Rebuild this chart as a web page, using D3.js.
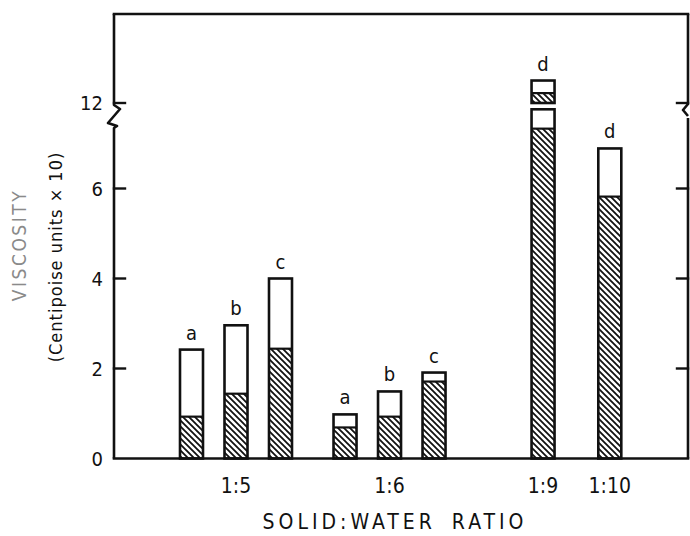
<!DOCTYPE html>
<html lang="en">
<head>
    <meta charset="UTF-8">
    <title>Viscosity vs solid:water ratio</title>
    <style>
        body{ margin:0; background:#fff; }
        svg{ display:block; }
        text{ font-family:"DejaVu Sans Condensed","DejaVu Sans",sans-serif; fill:#111; }
    </style>
</head>
<body>
    <script src="https://cdnjs.cloudflare.com/ajax/libs/d3/7.8.2/d3.min.js"></script>
    <script>

        // data
        const groups = ["1:5", "1:6", "1:9", "1:10"];
        const barGroup = ["1:5", "1:5", "1:5", "1:6", "1:6", "1:6", "1:9", "1:10"];
        const barLetters = ["a", "b", "c", "a", "b", "c", "d", "d"];
        const totalValues = [2.42, 2.96, 4.0, 0.98, 1.49, 1.91, 7.76, 6.89];
        const hatchedValues = [0.93, 1.44, 2.44, 0.69, 0.93, 1.71, 7.33, 5.82];
        // piece of the 1:9 bar drawn above the axis break
        const brokenBase = 12.0;
        const brokenHatched = 12.22;
        const brokenTotal = 12.5;
        const yTicks = [2, 4, 6, 12];
        const yTickLabels = ["0", "2", "4", "6", "12"];

        const w = 690;
        const h = 536;
        const mLeft = 114, mRight = 688, mTop = 14, mBottom = 458.5;
        const stroke = "#111";

        const svg = d3.select("body")
            .append("svg")
            .attr("width", w)
            .attr("height", h);

        // broken y axis: 0..7.8 below the break, 12..14 above it
        const y = d3.scaleLinear()
            .domain([0, 7.8, 12, 13.98])
            .range([mBottom, 107.5, 103, mTop]);

        // bar slots, groups spaced apart
        const slots = [0, 1, 2, 3.45, 4.45, 5.45, 7.9, 9.4];
        const x = d3.scaleLinear()
            .domain([0, 1])
            .range([191.5, 236]);
        const bw = 23;

        const defs = svg.append("defs");
        defs.append("pattern")
            .attr("id", "hatch")
            .attr("patternUnits", "userSpaceOnUse")
            .attr("width", 6)
            .attr("height", 6)
            .append("path")
                .attr("d", "M-1,-1 L7,7 M-1,5 L1,7 M5,-1 L7,1")
                .attr("stroke", stroke)
                .attr("stroke-width", 1.8);

        const bars = d3.range(barGroup.length).map(i => ({
            cx: x(slots[i]),
            base: 0,
            hatched: hatchedValues[i],
            total: totalValues[i],
            letter: barLetters[i]
        }));
        // the part above the break
        const pieces = bars.map(b => Object.assign({}, b)).concat([{
            cx: x(slots[6]),
            base: brokenBase,
            hatched: brokenHatched,
            total: brokenTotal,
            letter: "d"
        }]);
        // only the top piece of 1:9 gets a letter
        pieces[6].letter = "";

        const g = svg.selectAll("g.bar")
            .data(pieces)
            .enter()
            .append("g")
                .attr("class", "bar");

        g.append("rect")
            .attr("x", d => d.cx - bw / 2)
            .attr("y", d => y(d.total))
            .attr("width", bw)
            .attr("height", d => y(d.base) - y(d.total))
            .attr("fill", "#fff");

        g.append("rect")
            .attr("x", d => d.cx - bw / 2)
            .attr("y", d => y(d.hatched))
            .attr("width", bw)
            .attr("height", d => y(d.base) - y(d.hatched))
            .attr("fill", "url(#hatch)");

        g.append("line")
            .attr("x1", d => d.cx - bw / 2)
            .attr("x2", d => d.cx + bw / 2)
            .attr("y1", d => y(d.hatched))
            .attr("y2", d => y(d.hatched))
            .attr("stroke", stroke)
            .attr("stroke-width", 2.2);

        g.append("rect")
            .attr("x", d => d.cx - bw / 2)
            .attr("y", d => y(d.total))
            .attr("width", bw)
            .attr("height", d => y(d.base) - y(d.total))
            .attr("fill", "none")
            .attr("stroke", stroke)
            .attr("stroke-width", 2.6);

        g.append("text")
            .attr("x", d => d.cx)
            .attr("y", d => y(d.total) - 10)
            .attr("text-anchor", "middle")
            .style("font-size", "20px")
            .text(d => d.letter);

        // frame and axes
        const line = (x1, y1, x2, y2, sw) => svg.append("line")
            .attr("x1", x1).attr("y1", y1).attr("x2", x2).attr("y2", y2)
            .attr("stroke", stroke).attr("stroke-width", sw || 2.6)
            .attr("stroke-linecap", "square");

        line(mLeft, mTop, mRight, mTop);
        line(mLeft, mBottom, mRight, mBottom);

        const bY = 116;
        svg.append("path")
            .attr("d", `M${mLeft},${mTop} L${mLeft},${bY - 11} L${mLeft + 6},${bY - 7} L${mLeft - 6},${bY + 7} L${mLeft + 3},${bY + 10} L${mLeft},${bY + 12} L${mLeft},${mBottom}`)
            .attr("fill", "none")
            .attr("stroke", stroke)
            .attr("stroke-width", 2.6)
            .attr("stroke-linejoin", "round");

        svg.append("path")
            .attr("d", `M${mRight},${mTop} L${mRight},${bY - 12} L${mRight - 5},${bY - 6} L${mRight},${bY} M${mRight},${bY + 2} L${mRight},${mBottom}`)
            .attr("fill", "none")
            .attr("stroke", stroke)
            .attr("stroke-width", 2.6)
            .attr("stroke-linejoin", "round");

        yTicks.forEach(t => {
            line(mLeft, y(t), mLeft + 11, y(t), 2.4);
            line(mRight - 11, y(t), mRight, y(t), 2.4);
        });

        svg.selectAll("text.ytick")
            .data([0].concat(yTicks))
            .enter()
            .append("text")
                .attr("class", "ytick")
                .attr("x", 103)
                .attr("y", d => y(d) + 7)
                .attr("text-anchor", "end")
                .style("font-size", "20px")
                .text((d, i) => yTickLabels[i]);

        // category labels under the middle bar of each group
        svg.selectAll("text.cat")
            .data(groups)
            .enter()
            .append("text")
                .attr("class", "cat")
                .attr("x", grp => d3.mean(bars.filter((b, i) => barGroup[i] === grp), b => b.cx))
                .attr("y", 493)
                .attr("text-anchor", "middle")
                .style("font-size", "21px")
                .text(grp => grp);

        svg.append("text")
            .attr("x", 395)
            .attr("y", 529)
            .attr("text-anchor", "middle")
            .style("font-size", "21px")
            .style("letter-spacing", "4px")
            .style("word-spacing", "6px")
            .text("SOLID:WATER RATIO");

        svg.append("text")
            .attr("transform", "translate(26,245) rotate(-90)")
            .attr("text-anchor", "middle")
            .style("font-size", "19px")
            .style("letter-spacing", "2.5px")
            .style("fill", "#8a8a8a")
            .text("VISCOSITY");

        svg.append("text")
            .attr("transform", "translate(62,257) rotate(-90)")
            .attr("text-anchor", "middle")
            .style("font-size", "18px")
            .style("letter-spacing", "1px")
            .text("(Centipoise units \u00d7 10)");

    </script>
</body>
</html>
